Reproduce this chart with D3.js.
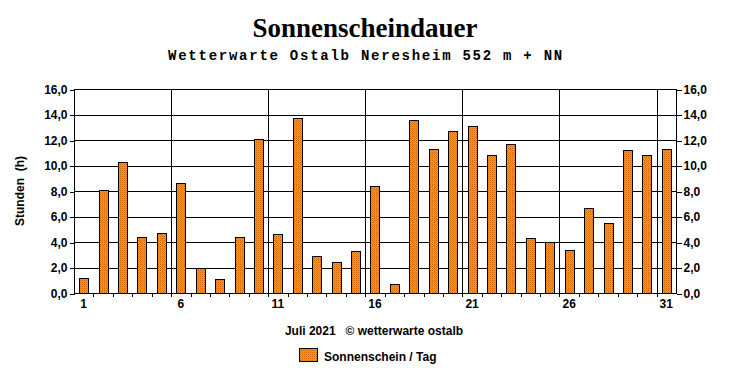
<!DOCTYPE html>
<html><head><meta charset="utf-8">
<script src="https://cdn.jsdelivr.net/npm/d3@7"></script>
<style>
html,body{margin:0;padding:0;background:#fff;}
svg{display:block;}
</style></head>
<body>
<svg id="c" width="732" height="380"></svg>
<script>
const days = d3.range(1, 32);
const sunshine = [1.2, 8.1, 10.3, 4.4, 4.7, 8.6, 2.0, 1.1, 4.4, 12.1, 4.6, 13.7, 2.9, 2.4, 3.3,
                  8.4, 0.7, 13.6, 11.3, 12.7, 13.1, 10.8, 11.7, 4.3, 4.0, 3.4, 6.7, 5.5, 11.2, 10.8, 11.3];
const yTicks = [0, 2, 4, 6, 8, 10, 12, 14, 16];
const xLabelDays = [1, 6, 11, 16, 21, 26, 31];
const title = "Sonnenscheindauer";
const subtitle = "Wetterwarte Ostalb Neresheim 552 m + NN";
const yTitle = "Stunden  (h)";
const xTitle = "Juli 2021   \u00A9 wetterwarte ostalb";
const legendLabel = "Sonnenschein / Tag";

const svg = d3.select("#c");
const L = 74, R = 676, T = 89, B = 293;
const x = d3.scaleBand().domain(days).range([L, R]).padding(0);
const y = d3.scaleLinear().domain([0, 16]).range([B, T]);
const fmt = v => v.toFixed(1).replace(".", ",");
const sans = "'Liberation Sans', Arial, sans-serif";

// pattern
const defs = svg.append("defs");
const pat = defs.append("pattern").attr("id", "dither").attr("patternUnits", "userSpaceOnUse")
  .attr("width", 2).attr("height", 2);
pat.append("rect").attr("width", 2).attr("height", 2).attr("fill", "#FF9900");
pat.append("rect").attr("x", 0).attr("y", 0).attr("width", 1).attr("height", 1).attr("fill", "#D06A00");
pat.append("rect").attr("x", 1).attr("y", 1).attr("width", 1).attr("height", 1).attr("fill", "#F08400");

// titles
svg.append("text").attr("x", 365).attr("y", 37).attr("text-anchor", "middle")
  .attr("font-family", "'Liberation Serif', 'Times New Roman', serif").attr("font-weight", "bold")
  .attr("font-size", 27).text(title);
svg.append("text").attr("x", 366).attr("y", 60).attr("text-anchor", "middle")
  .attr("font-family", "'Liberation Mono', 'Courier New', monospace").attr("font-weight", "bold")
  .attr("font-size", 14).attr("letter-spacing", 1.75).text(subtitle);

// gridlines
const g = svg.append("g").attr("shape-rendering", "crispEdges");
g.selectAll("line.h").data(yTicks).join("line")
  .attr("x1", L).attr("x2", R).attr("y1", d => Math.round(y(d)) + 0.5).attr("y2", d => Math.round(y(d)) + 0.5)
  .attr("stroke", "#000");
g.selectAll("line.v").data(xLabelDays.slice(1)).join("line")
  .attr("x1", d => Math.round(x(d)) + 0.5).attr("x2", d => Math.round(x(d)) + 0.5)
  .attr("y1", T).attr("y2", B).attr("stroke", "#000");

// bars
const bw = 9;
svg.append("g").attr("shape-rendering", "crispEdges").selectAll("rect").data(days).join("rect")
  .attr("x", d => Math.round(x(d) + (x.bandwidth() - bw) / 2) + 0.5)
  .attr("y", (d, i) => Math.round(y(sunshine[i])) + 0.5)
  .attr("width", bw)
  .attr("height", (d, i) => Math.round(y(0)) - Math.round(y(sunshine[i])))
  .attr("fill", "url(#dither)").attr("stroke", "#000").attr("stroke-width", 1);

// axes
const axL = d3.axisLeft(y).tickValues(yTicks).tickFormat(fmt).tickSize(5).tickPadding(2);
const axR = d3.axisRight(y).tickValues(yTicks).tickFormat(fmt).tickSize(5).tickPadding(2);
function styleAxis(sel) {
  sel.attr("shape-rendering", "crispEdges");
  sel.select(".domain").remove();
  sel.selectAll("text").attr("font-family", sans).attr("font-weight", "bold").attr("font-size", 12).attr("fill", "#000");
}
svg.append("g").attr("transform", `translate(${L + 0.5},0.5)`).call(axL).call(styleAxis);
svg.append("g").attr("transform", `translate(${R + 0.5},0.5)`).call(axR).call(styleAxis);
svg.append("line").attr("x1", L + 0.5).attr("x2", L + 0.5).attr("y1", T).attr("y2", B + 1).attr("stroke", "#000").attr("shape-rendering", "crispEdges");
svg.append("line").attr("x1", R + 0.5).attr("x2", R + 0.5).attr("y1", T).attr("y2", B + 1).attr("stroke", "#000").attr("shape-rendering", "crispEdges");

// x axis ticks at band boundaries
const bounds = days.slice(1);
svg.append("g").attr("shape-rendering", "crispEdges").selectAll("line").data(bounds).join("line")
  .attr("x1", d => Math.round(x(d)) + 0.5).attr("x2", d => Math.round(x(d)) + 0.5)
  .attr("y1", Math.round(y(0))).attr("y2", Math.round(y(0)) + 4).attr("stroke", "#000");

// x labels
svg.append("g").selectAll("text").data(xLabelDays).join("text")
  .attr("x", d => x(d) + x.bandwidth() / 2).attr("y", 308).attr("text-anchor", "middle")
  .attr("font-family", sans).attr("font-weight", "bold").attr("font-size", 12).text(d => d);

// axis titles
svg.append("text").attr("transform", "translate(24,191) rotate(-90)").attr("text-anchor", "middle")
  .attr("font-family", sans).attr("font-weight", "bold").attr("font-size", 12)
  .style("white-space", "pre").text(yTitle);
svg.append("text").attr("x", 374).attr("y", 335).attr("text-anchor", "middle")
  .attr("font-family", sans).attr("font-weight", "bold").attr("font-size", 12)
  .style("white-space", "pre").text(xTitle);

// legend
svg.append("rect").attr("x", 299.5).attr("y", 348.5).attr("width", 18).attr("height", 13)
  .attr("fill", "url(#dither)").attr("stroke", "#000").attr("shape-rendering", "crispEdges");
svg.append("text").attr("x", 324).attr("y", 361).attr("font-family", sans).attr("font-weight", "bold")
  .attr("font-size", 12).text(legendLabel);
</script>
</body></html>
